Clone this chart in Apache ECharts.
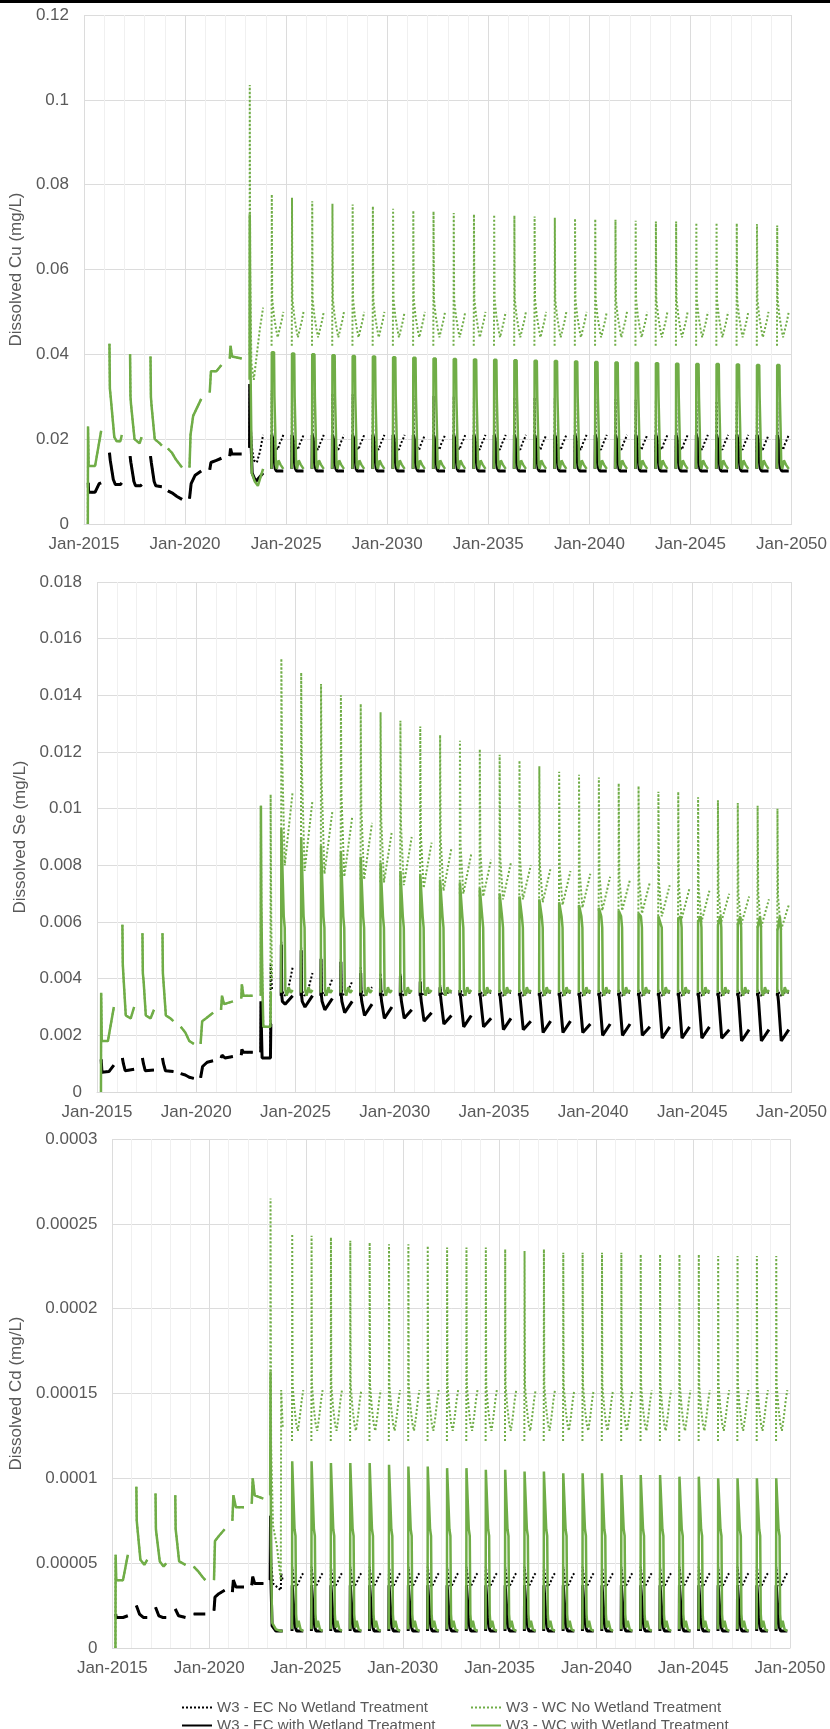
<!DOCTYPE html>
<html><head><meta charset="utf-8">
<script src="https://cdn.jsdelivr.net/npm/echarts/dist/echarts.min.js"></script>
<style>html,body{margin:0;padding:0;background:#fff}#c{width:830px;height:1729px}</style>
</head><body><div id="c"></div>
<script>
// ---------- categories / ticks ----------
const SERIES_NAMES = ['W3 - EC No Wetland Treatment','W3 - WC No Wetland Treatment','W3 - EC with Wetland Treatment','W3 - WC with Wetland Treatment'];
const X_TICKS = ['Jan-2015','Jan-2020','Jan-2025','Jan-2030','Jan-2035','Jan-2040','Jan-2045','Jan-2050'];
const Y_TICKS_CU = ['0','0.02','0.04','0.06','0.08','0.1','0.12'];
const Y_TICKS_SE = ['0','0.002','0.004','0.006','0.008','0.01','0.012','0.014','0.016','0.018'];
const Y_TICKS_CD = ['0','0.00005','0.0001','0.00015','0.0002','0.00025','0.0003'];
const CYCLE_YEARS = [2024,2025,2026,2027,2028,2029,2030,2031,2032,2033,2034,2035,2036,2037,2038,2039,2040,2041,2042,2043,2044,2045,2046,2047,2048,2049];

// ---------- Cu : seasons 2015-2022 (same for both scenarios), [year, mg/L] ----------
const cuEarlyWC = [
 [[2015.19,0],[2015.20,0.023],[2015.23,0.0137],[2015.55,0.0137],[2015.85,0.022]],
 [[2016.26,0.0425],[2016.28,0.032],[2016.32,0.030],[2016.50,0.0205],[2016.62,0.0195],[2016.80,0.0195],[2016.87,0.021]],
 [[2017.28,0.040],[2017.30,0.030],[2017.33,0.028],[2017.50,0.020],[2017.75,0.019],[2017.85,0.0205]],
 [[2018.29,0.0395],[2018.31,0.030],[2018.34,0.028],[2018.50,0.020],[2018.75,0.019],[2018.85,0.0185]],
 [[2019.15,0.0178],[2019.35,0.0168],[2019.55,0.0152],[2019.85,0.0133]],
 [[2020.22,0.0133],[2020.27,0.021],[2020.40,0.0255],[2020.80,0.0295]],
 [[2021.22,0.031],[2021.28,0.036],[2021.55,0.036],[2021.80,0.0375]],
 [[2022.21,0.039],[2022.25,0.042],[2022.32,0.0395],[2022.80,0.039]]
];
const cuEarlyEC = [
 [[2015.21,0.0097],[2015.23,0.0075],[2015.55,0.0075],[2015.75,0.0095],[2015.85,0.0097]],
 [[2016.26,0.0168],[2016.30,0.015],[2016.45,0.0105],[2016.55,0.0093],[2016.80,0.0093],[2016.87,0.0097]],
 [[2017.28,0.016],[2017.32,0.0145],[2017.47,0.0100],[2017.55,0.0090],[2017.80,0.0090],[2017.85,0.0093]],
 [[2018.29,0.016],[2018.33,0.0145],[2018.47,0.0100],[2018.55,0.0090],[2018.85,0.0088]],
 [[2019.15,0.0078],[2019.40,0.0072],[2019.60,0.0065],[2019.85,0.0058]],
 [[2020.22,0.0060],[2020.30,0.0095],[2020.50,0.0115],[2020.80,0.0125]],
 [[2021.22,0.0128],[2021.28,0.0145],[2021.55,0.0150],[2021.80,0.0155]],
 [[2022.21,0.0160],[2022.25,0.0178],[2022.32,0.0165],[2022.80,0.0165]]
];
const cuECn2023 = [[2023.19,0.018],[2023.20,0.033],[2023.28,0.019],[2023.40,0.015],[2023.55,0.0145],[2023.70,0.017],[2023.86,0.021]];
const cuWCn2023 = [[2023.19,0.040],[2023.20,0.1035],[2023.22,0.060],[2023.28,0.038],[2023.40,0.034],[2023.55,0.040],[2023.70,0.046],[2023.86,0.051]];
const cuECw2023 = [[2023.19,0.018],[2023.20,0.033],[2023.24,0.022],[2023.32,0.012],[2023.50,0.010],[2023.86,0.012]];
const cuWCw2023 = [[2023.19,0.034],[2023.20,0.073],[2023.23,0.040],[2023.30,0.012],[2023.45,0.010],[2023.60,0.009],[2023.86,0.013]];
// yearly peaks 2024-2049
const cuWCnPeak = [0.0777,0.0769,0.0761,0.0755,0.0753,0.0749,0.0743,0.0739,0.0737,0.0733,0.0730,0.0729,0.0727,0.0725,0.0722,0.0720,0.0719,0.0717,0.0715,0.0713,0.0713,0.0710,0.0710,0.0709,0.0707,0.0704];
const cuWCwPeak = [0.0405,0.0402,0.0400,0.0398,0.0396,0.0395,0.0393,0.0392,0.0390,0.0389,0.0388,0.0387,0.0386,0.0385,0.0384,0.0383,0.0382,0.0381,0.0380,0.0379,0.0378,0.0377,0.0377,0.0376,0.0375,0.0375];
const cuECnPeak = [0.0315,0.0311,0.0310,0.0308,0.0306,0.0305,0.0304,0.0303,0.0302,0.0301,0.0300,0.0300,0.0299,0.0298,0.0297,0.0296,0.0295,0.0294,0.0293,0.0292,0.0292,0.0291,0.0290,0.0290,0.0289,0.0288];

// ---------- Se ----------
const seEarlyWC = [
 [[2015.20,0],[2015.21,0.0035],[2015.24,0.0018],[2015.55,0.0018],[2015.85,0.0030]],
 [[2016.28,0.0059],[2016.30,0.0045],[2016.34,0.0040],[2016.45,0.0027],[2016.70,0.0026],[2016.87,0.0030]],
 [[2017.29,0.0056],[2017.31,0.0042],[2017.35,0.0039],[2017.46,0.0027],[2017.70,0.0026],[2017.87,0.0029]],
 [[2018.30,0.0056],[2018.32,0.0042],[2018.36,0.0038],[2018.47,0.0027],[2018.70,0.0026],[2018.85,0.0025]],
 [[2019.22,0.0023],[2019.45,0.0021],[2019.65,0.0018],[2019.88,0.0017]],
 [[2020.22,0.0017],[2020.30,0.0025],[2020.50,0.0026],[2020.85,0.0028]],
 [[2021.25,0.0029],[2021.30,0.0034],[2021.40,0.0031],[2021.85,0.0032]],
 [[2022.27,0.0033],[2022.30,0.0038],[2022.38,0.0034],[2022.85,0.0034]]
];
const seEarlyEC = [
 [[2015.21,0.00115],[2015.25,0.0007],[2015.60,0.00072],[2015.85,0.00095]],
 [[2016.28,0.0012],[2016.33,0.0010],[2016.42,0.00075],[2016.87,0.0008]],
 [[2017.29,0.0012],[2017.34,0.0010],[2017.43,0.00075],[2017.87,0.00078]],
 [[2018.30,0.0012],[2018.35,0.0010],[2018.45,0.00075],[2018.85,0.00072]],
 [[2019.22,0.00065],[2019.45,0.0006],[2019.65,0.00052],[2019.88,0.00048]],
 [[2020.22,0.0005],[2020.32,0.0009],[2020.55,0.00105],[2020.85,0.0011]],
 [[2021.25,0.0012],[2021.30,0.0013],[2021.45,0.0012],[2021.85,0.00125]],
 [[2022.27,0.0013],[2022.30,0.0015],[2022.38,0.0014],[2022.85,0.0014]]
];
const seECn2023 = [[2023.25,0.0014],[2023.26,0.0032],[2023.28,0.0024],[2023.32,0.0012],[2023.74,0.0012],[2023.75,0.0045],[2023.82,0.0036]];
const seWCn2023 = [[2023.25,0.0034],[2023.26,0.0101],[2023.28,0.0067],[2023.33,0.0040],[2023.38,0.0023],[2023.74,0.0023],[2023.75,0.0105],[2023.78,0.0060],[2023.82,0.0040]];
const seECw2023 = [[2023.25,0.0014],[2023.26,0.0032],[2023.28,0.0024],[2023.32,0.0012],[2023.74,0.0012],[2023.76,0.0024],[2023.82,0.0024]];
const seWCw2023 = [[2023.25,0.0034],[2023.26,0.0101],[2023.28,0.0067],[2023.33,0.0040],[2023.38,0.0023],[2023.74,0.0023],[2023.76,0.0035],[2023.82,0.0035]];
const seWCnPeak = [.0153,.0148,.0144,.0140,.0137,.0134,.0131,.0129,.0126,.0124,.0121,.0119,.0117,.0115,.0113,.0112,.0111,.0109,.0108,.0106,.0106,.0104,.0103,.0102,.0101,.0100];
const seWCnMid  = [.0122,.0116,.0110,.0105,.0100,.0097,.0094,.0091,.0089,.0087,.0085,.0083,.0082,.0080,.0079,.0078,.0077,.0076,.0075,.0074,.0073,.0072,.0071,.0070,.0070,.0069];
const seWCnLow  = [.0080,.0078,.0077,.0076,.0075,.0074,.0073,.0072,.0071,.0070,.0069,.0068,.0068,.0067,.0066,.0065,.0064,.0064,.0063,.0062,.0061,.0060,.0060,.0059,.0058,.0057];
const seWCnEnd  = [.0106,.0103,.0099,.0097,.0095,.0092,.0090,.0088,.0086,.0084,.0082,.0081,.0080,.0079,.0078,.0077,.0076,.0075,.0074,.0073,.0072,.0071,.0070,.0069,.0068,.0066];
const seWCwPeak = [.0093,.0090,.0087,.0085,.0083,.0081,.0078,.0077,.0075,.0074,.0072,.0070,.0069,.0068,.0067,.0066,.0065,.0064,.0063,.0062,.0061,.0060,.0059,.0059,.0058,.0057];
const seECwPeak = [.0052,.0050,.0047,.0046,.0042,.0040,.0041,.0039,.0037,.0036,.0035,.0035,.0035,.0035,.0035,.0035,.0035,.0035,.0035,.0035,.0035,.0035,.0035,.0035,.0035,.0035];
const seECwLow  = [.0031,.0030,.0029,.0028,.0027,.0026,.0026,.0025,.0024,.0023,.0023,.0022,.0022,.0021,.0021,.0021,.0020,.0020,.0020,.0019,.0019,.0019,.0019,.0018,.0018,.0018];
const seECwEnd  = [.0034,.0034,.0033,.0032,.0031,.0030,.0029,.0028,.0027,.0027,.0026,.0026,.0025,.0025,.0025,.0024,.0024,.0024,.0023,.0023,.0023,.0023,.0022,.0022,.0022,.0022];
const seECnPeak = [.0053,.0051,.0048,.0047,.0044,.0042,.0042,.0040,.0038,.0037,.0036,.0036,.0036,.0036,.0036,.0036,.0036,.0036,.0036,.0036,.0036,.0036,.0036,.0036,.0036,.0036];
const seECnEnd  = [.0044,.0042,.0040,.0039,.0037,.0036,.0035,.0035,.0035,.0035,.0035,.0035,.0035,.0035,.0035,.0035,.0035,.0035,.0035,.0035,.0035,.0035,.0035,.0035,.0035,.0035];

// ---------- Cd ----------
const cdEarlyWC = [
 [[2015.16,0],[2015.17,0.000055],[2015.20,0.00004],[2015.55,0.00004],[2015.80,0.000055]],
 [[2016.24,0.000095],[2016.26,0.000075],[2016.30,0.00007],[2016.45,0.000052],[2016.65,0.000049],[2016.80,0.000052]],
 [[2017.23,0.000091],[2017.25,0.00007],[2017.29,0.000066],[2017.45,0.000051],[2017.65,0.000048],[2017.78,0.00005]],
 [[2018.25,0.00009],[2018.27,0.00007],[2018.31,0.000066],[2018.45,0.000051],[2018.78,0.000049]],
 [[2019.20,0.000048],[2019.45,0.000045],[2019.65,0.000042],[2019.80,0.00004]],
 [[2020.25,0.00004],[2020.30,0.000063],[2020.50,0.000066],[2020.80,0.00007]],
 [[2021.20,0.000075],[2021.25,0.00009],[2021.38,0.000083],[2021.80,0.000083]],
 [[2022.20,0.000085],[2022.25,0.0001],[2022.35,0.00009],[2022.80,0.000088]]
];
const cdEarlyEC = [
 [[2015.17,0.00002],[2015.20,0.000018],[2015.55,0.000018],[2015.80,0.000019]],
 [[2016.24,0.000025],[2016.28,0.000024],[2016.40,0.00002],[2016.60,0.000018],[2016.80,0.000018]],
 [[2017.23,0.000024],[2017.27,0.000023],[2017.40,0.000019],[2017.60,0.000018],[2017.78,0.000018]],
 [[2018.25,0.000023],[2018.29,0.000022],[2018.42,0.000019],[2018.78,0.000018]],
 [[2019.20,0.00002],[2019.50,0.00002],[2019.80,0.00002]],
 [[2020.25,0.000022],[2020.30,0.00003],[2020.50,0.000032],[2020.80,0.000034]],
 [[2021.20,0.000033],[2021.25,0.00004],[2021.38,0.000036],[2021.80,0.000036]],
 [[2022.20,0.000037],[2022.25,0.000042],[2022.35,0.000038],[2022.80,0.000038]]
];
const cdECn2023 = [[2023.15,0.00004],[2023.17,0.000078],[2023.20,0.00005],[2023.30,0.000038],[2023.50,0.000036],[2023.70,0.000034],[2023.72,0.000044],[2023.80,0.00004]];
const cdWCn2023 = [[2023.15,0.00009],[2023.17,0.000265],[2023.20,0.00012],[2023.30,0.000072],[2023.50,0.00006],[2023.70,0.00004],[2023.72,0.000152],[2023.80,0.00013]];
const cdECw2023 = [[2023.15,0.00004],[2023.17,0.000078],[2023.19,0.00004],[2023.25,0.000013],[2023.45,0.00001],[2023.80,0.00001]];
const cdWCw2023 = [[2023.15,0.00009],[2023.17,0.000163],[2023.19,0.00006],[2023.25,0.000015],[2023.45,0.000011],[2023.70,0.00001],[2023.80,0.00001]];
const cdWCnPeak = [0.000244,0.000243,0.000242,0.000240,0.000239,0.000238,0.000238,0.000237,0.000236,0.000236,0.000236,0.000235,0.000234,0.000235,0.000233,0.000233,0.000233,0.000233,0.000232,0.000232,0.000232,0.000232,0.000231,0.000231,0.000231,0.000231];
const cdWCwPeak = [0.000110,0.000110,0.000109,0.000109,0.000109,0.000108,0.000107,0.000107,0.000106,0.000106,0.000105,0.000105,0.000104,0.000104,0.000103,0.000103,0.000103,0.000102,0.000102,0.000102,0.000101,0.000101,0.000100,0.000100,0.000100,0.000100];

// ---------- seasonal cycles 2024-2049: [fraction of year, value or per-year array] ----------
const cuCycles = [
 [[0.28,0.017],[0.29,cuECnPeak],[0.31,0.021],[0.40,0.019],[0.50,0.018],[0.58,0.0175],[0.68,0.019],[0.78,0.020],[0.86,0.021]],
 [[0.28,0.042],[0.29,cuWCnPeak],[0.31,0.053],[0.40,0.049],[0.50,0.046],[0.58,0.044],[0.68,0.046],[0.78,0.048],[0.86,0.050]],
 [[0.28,0.013],[0.29,0.021],[0.34,0.020],[0.40,0.016],[0.46,0.013],[0.52,0.0125],[0.86,0.0125]],
 [[0.28,0.013],[0.29,cuWCwPeak],[0.40,cuWCwPeak],[0.42,0.030],[0.46,0.022],[0.49,0.014],[0.54,0.013],[0.62,0.015],[0.72,0.014],[0.86,0.013]]
];
const seCycles = [
 [[0.28,0.0034],[0.29,seECnPeak],[0.31,0.0036],[0.45,0.0034],[0.60,0.0035],[0.86,seECnEnd]],
 [[0.28,seWCnLow],[0.29,seWCnPeak],[0.32,seWCnMid],[0.46,seWCnLow],[0.56,seWCnLow],[0.86,seWCnEnd]],
 [[0.28,0.0034],[0.29,seECwPeak],[0.31,0.0034],[0.34,0.0032],[0.48,seECwLow],[0.58,seECwLow],[0.86,seECwEnd]],
 [[0.28,0.0035],[0.29,seWCwPeak],[0.39,seWCwPeak],[0.41,0.0062],[0.46,0.0058],[0.49,0.0036],[0.56,0.0034],[0.66,0.0037],[0.76,0.0035],[0.86,0.0036]]
];
const cdCycles = [
 [[0.28,0.00004],[0.29,0.000048],[0.31,0.000046],[0.40,0.000038],[0.50,0.000036],[0.58,0.000037],[0.68,0.00004],[0.78,0.000043],[0.86,0.000044]],
 [[0.28,0.000122],[0.29,cdWCnPeak],[0.31,0.000155],[0.40,0.000142],[0.50,0.000132],[0.58,0.000128],[0.68,0.000136],[0.78,0.000146],[0.86,0.000152]],
 [[0.28,0.00001],[0.29,0.000037],[0.34,0.000036],[0.40,0.000018],[0.46,0.000012],[0.52,0.00001],[0.86,0.00001]],
 [[0.28,0.000011],[0.29,cdWCwPeak],[0.39,cdWCwPeak],[0.41,0.00007],[0.46,0.000066],[0.49,0.00002],[0.54,0.000012],[0.62,0.000016],[0.72,0.000011],[0.86,0.00001]]
];

// ---------- build ----------
function seasonData(early, transition, knots) {
  const out = [];
  const push = seg => { seg.forEach(p => out.push([p[0], p[1]])); out.push([seg[seg.length - 1][0] + 0.05, null]); };
  early.forEach(push);
  push(transition);
  CYCLE_YEARS.forEach((y, i) => push(knots.map(([o, v]) => [y + o, Array.isArray(v) ? v[i] : v])));
  return out;
}
const charts = [
  {title:'Dissolved Cu (mg/L)', ticks:Y_TICKS_CU, interval:0.02, max:0.12,
   grid:{left:82, right:38, top:15, height:509}, nameGap:49,
   data:[seasonData(cuEarlyEC,cuECn2023,cuCycles[0]), seasonData(cuEarlyWC,cuWCn2023,cuCycles[1]),
         seasonData(cuEarlyEC,cuECw2023,cuCycles[2]), seasonData(cuEarlyWC,cuWCw2023,cuCycles[3])]},
  {title:'Dissolved Se (mg/L)', ticks:Y_TICKS_SE, interval:0.002, max:0.018,
   grid:{left:97, right:35, top:582, height:510}, nameGap:56,
   data:[seasonData(seEarlyEC,seECn2023,seCycles[0]), seasonData(seEarlyWC,seWCn2023,seCycles[1]),
         seasonData(seEarlyEC,seECw2023,seCycles[2]), seasonData(seEarlyWC,seWCw2023,seCycles[3])]},
  {title:'Dissolved Cd (mg/L)', ticks:Y_TICKS_CD, interval:0.00005, max:0.0003,
   grid:{left:112, right:40, top:1139, height:509}, nameGap:76,
   data:[seasonData(cdEarlyEC,cdECn2023,cdCycles[0]), seasonData(cdEarlyWC,cdWCn2023,cdCycles[1]),
         seasonData(cdEarlyEC,cdECw2023,cdCycles[2]), seasonData(cdEarlyWC,cdWCw2023,cdCycles[3])]}
];
const GREEN = '#70AD47', BLACK = '#000000', TXT = '#595959', FONT = 'Liberation Sans, Arial, sans-serif';
const styles = [
  {color:BLACK, width:2, type:[2,2]},
  {color:GREEN, width:2, type:[2,2]},
  {color:BLACK, width:3, type:'solid'},
  {color:GREEN, width:2.5, type:'solid'}
];
const option = {
  animation:false, backgroundColor:'#fff',
  textStyle:{fontFamily:FONT},
  grid: charts.map(c => c.grid),
  xAxis: charts.map((c, i) => ({
    type:'value', gridIndex:i, min:2015, max:2050, interval:5,
    axisLine:{show:true, lineStyle:{color:'#d9d9d9'}}, axisTick:{show:false},
    axisLabel:{color:TXT, fontSize:17, margin:12, fontFamily:FONT, formatter:v => X_TICKS[Math.round((v - 2015) / 5)] || ''},
    splitLine:{show:true, lineStyle:{color:'#dcdcdc', width:1}},
    minorTick:{show:false, splitNumber:5},
    minorSplitLine:{show:true, lineStyle:{color:'#f0f0f0', width:1}}
  })),
  yAxis: charts.map((c, i) => ({
    type:'value', gridIndex:i, min:0, max:c.max, interval:c.interval,
    name:c.title, nameLocation:'middle', nameGap:c.nameGap, nameRotate:90,
    nameTextStyle:{color:TXT, fontSize:17, fontFamily:FONT},
    axisLine:{show:false}, axisTick:{show:false},
    axisLabel:{color:TXT, fontSize:17, margin:15, fontFamily:FONT, formatter:v => c.ticks[Math.round(v / c.interval)] || ''},
    splitLine:{show:true, lineStyle:{color:'#dcdcdc', width:1}}
  })),
  legend: [
    {name:SERIES_NAMES[0], left:176, top:1695},
    {name:SERIES_NAMES[1], left:465, top:1695},
    {name:SERIES_NAMES[2], left:176, top:1713},
    {name:SERIES_NAMES[3], left:465, top:1713}
  ].map(l => ({data:[l.name], left:l.left, top:l.top, itemWidth:30, itemHeight:12, itemGap:5,
     itemStyle:{opacity:0, borderWidth:0},
     textStyle:{color:TXT, fontSize:15, fontFamily:FONT}, selectedMode:false})),
  graphic:[{type:'rect', left:0, top:0, shape:{width:830, height:3}, style:{fill:'#000'}}],
  series: []
};
charts.forEach((c, gi) => {
  c.data.forEach((d, si) => {
    option.series.push({
      name:SERIES_NAMES[si], type:'line', xAxisIndex:gi, yAxisIndex:gi,
      data:d, symbol:'none', showSymbol:false, connectNulls:false,
      lineStyle:{color:styles[si].color, width:styles[si].width, type:styles[si].type},
      itemStyle:{color:styles[si].color}, z:2 + si
    });
  });
});
const chart = echarts.init(document.getElementById('c'), null, {renderer:'canvas'});
chart.setOption(option);
</script></body></html>
